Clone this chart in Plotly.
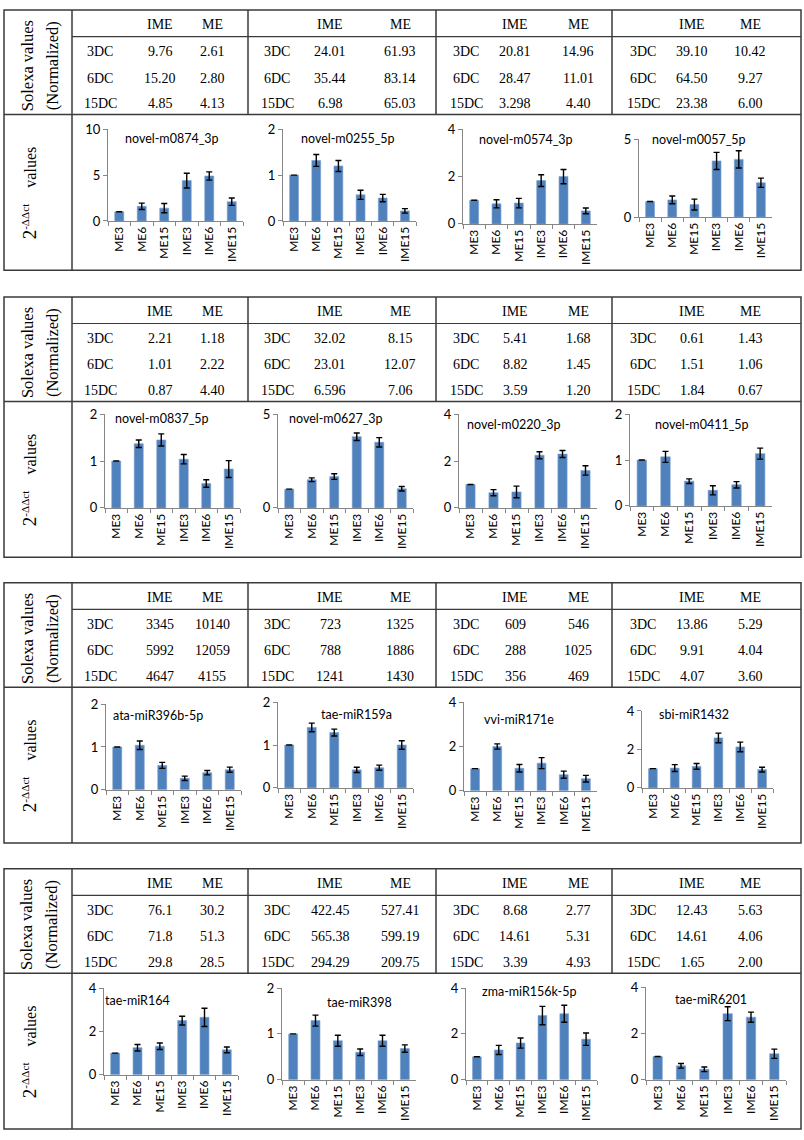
#!/usr/bin/env python3
"""
qRT-PCR validation panels with Solexa tables above each row of bar charts.
"""
import plotly.graph_objects as go

W, H = 804, 1140

cats = ["ME3", "ME6", "ME15", "IME3", "IME6", "IME15"]
row_labels = ["3DC", "6DC", "15DC"]

names = [
    "novel-m0874_3p", "novel-m0255_5p", "novel-m0574_3p", "novel-m0057_5p",
    "novel-m0837_5p", "novel-m0627_3p", "novel-m0220_3p", "novel-m0411_5p",
    "ata-miR396b-5p", "tae-miR159a", "vvi-miR171e", "sbi-miR1432",
    "tae-miR164", "tae-miR398", "zma-miR156k-5p", "tae-miR6201",
]

# solexa normalized values, IME and ME columns (3DC, 6DC, 15DC)
ime = [
    ["9.76", "15.20", "4.85"], ["24.01", "35.44", "6.98"],
    ["20.81", "28.47", "3.298"], ["39.10", "64.50", "23.38"],
    ["2.21", "1.01", "0.87"], ["32.02", "23.01", "6.596"],
    ["5.41", "8.82", "3.59"], ["0.61", "1.51", "1.84"],
    ["3345", "5992", "4647"], ["723", "788", "1241"],
    ["609", "288", "356"], ["13.86", "9.91", "4.07"],
    ["76.1", "71.8", "29.8"], ["422.45", "565.38", "294.29"],
    ["8.68", "14.61", "3.39"], ["12.43", "14.61", "1.65"],
]
me = [
    ["2.61", "2.80", "4.13"], ["61.93", "83.14", "65.03"],
    ["14.96", "11.01", "4.40"], ["10.42", "9.27", "6.00"],
    ["1.18", "2.22", "4.40"], ["8.15", "12.07", "7.06"],
    ["1.68", "1.45", "1.20"], ["1.43", "1.06", "0.67"],
    ["10140", "12059", "4155"], ["1325", "1886", "1430"],
    ["546", "1025", "469"], ["5.29", "4.04", "3.60"],
    ["30.2", "51.3", "28.5"], ["527.41", "599.19", "209.75"],
    ["2.77", "5.31", "4.93"], ["5.63", "4.06", "2.00"],
]

# 2^-ddct values and error bars (ME3 is the calibrator, no error)
values = [
    [1.0, 1.6, 1.4, 4.4, 4.9, 2.1],
    [1.0, 1.32, 1.2, 0.57, 0.5, 0.22],
    [1.0, 0.85, 0.88, 1.83, 2.0, 0.55],
    [1.0, 1.1, 0.8, 3.6, 3.7, 2.2],
    [1.0, 1.37, 1.45, 1.04, 0.52, 0.83],
    [1.0, 1.5, 1.67, 3.8, 3.5, 1.02],
    [1.0, 0.65, 0.68, 2.25, 2.3, 1.6],
    [1.0, 1.07, 0.54, 0.34, 0.46, 1.14],
    [1.0, 1.04, 0.57, 0.27, 0.4, 0.47],
    [1.0, 1.41, 1.29, 0.42, 0.47, 1.0],
    [1.0, 2.0, 1.02, 1.25, 0.73, 0.55],
    [1.0, 1.03, 1.12, 2.6, 2.13, 0.95],
    [1.0, 1.25, 1.32, 2.5, 2.65, 1.15],
    [1.0, 1.29, 0.85, 0.6, 0.85, 0.68],
    [1.0, 1.3, 1.6, 2.8, 2.88, 1.77],
    [1.0, 0.6, 0.45, 2.85, 2.7, 1.12],
]
errors = [
    [None, 0.35, 0.5, 0.8, 0.45, 0.4],
    [None, 0.13, 0.12, 0.1, 0.08, 0.05],
    [None, 0.17, 0.2, 0.25, 0.3, 0.12],
    [None, 0.25, 0.35, 0.55, 0.55, 0.3],
    [None, 0.08, 0.13, 0.1, 0.08, 0.18],
    [None, 0.1, 0.15, 0.2, 0.25, 0.12],
    [None, 0.13, 0.25, 0.15, 0.15, 0.2],
    [None, 0.12, 0.05, 0.1, 0.07, 0.12],
    [None, 0.1, 0.07, 0.05, 0.05, 0.06],
    [None, 0.1, 0.08, 0.06, 0.06, 0.1],
    [None, 0.12, 0.17, 0.25, 0.16, 0.15],
    [None, 0.18, 0.15, 0.25, 0.25, 0.12],
    [None, 0.15, 0.15, 0.2, 0.42, 0.13],
    [None, 0.12, 0.12, 0.07, 0.12, 0.08],
    [None, 0.2, 0.22, 0.4, 0.37, 0.27],
    [None, 0.1, 0.1, 0.3, 0.22, 0.2],
]
ymax = [10, 2, 4, 5, 2, 5, 4, 2, 2, 2, 4, 4, 4, 2, 4, 4]
dtick = [5, 1, 2, 5, 1, 5, 2, 1, 1, 1, 2, 2, 2, 1, 2, 2]

# ---- layout geometry (pixels) ----
block_top = [2, 293, 583, 873]
block_h = 264
table_h = 106
header_h = 27
left_col = 72
col_edges = [72, 248, 436, 612, 801]
col_text_x = [(100, 160, 212), (277, 330, 400), (466, 515, 578), (643, 692, 750)]
row_y = [42, 69, 95]

# per panel: x0, x1, y top, y zero (relative to block top), title x, title y
panel_geo = [
    (108, 243, 121, 214, 172, 130), (283, 416, 121, 214, 348, 130),
    (463, 597, 121, 217, 526, 131), (639, 772, 131, 210, 699, 131),
    (105, 240, 119, 214, 162, 123), (278, 413, 119, 214, 336, 123),
    (459, 597, 119, 214, 514, 129), (630, 772, 119, 212, 702, 129),
    (106, 241, 123, 210, 158, 135), (278, 413, 121, 208, 356, 134),
    (464, 597, 121, 211, 519, 139), (642, 773, 130, 208, 694, 134),
    (104, 238, 121, 209, 137, 134), (282, 416, 121, 214, 359, 136),
    (466, 597, 121, 214, 529, 125), (646, 786, 120, 214, 711, 133),
]

serif = "Liberation Serif"
sans = "Lato"
bar_color = "#4F81BD"
axis_color = "#868686"
frame = "#3a3a3a"


def px(x):
    return x / W


def py(y):
    return 1 - y / H


fig = go.Figure()
shapes = []
annotations = []
layout_axes = {}


def hline(x0, x1, y, w=1.5):
    shapes.append(dict(type="line", xref="paper", yref="paper",
                       x0=px(x0), x1=px(x1), y0=py(y), y1=py(y),
                       line=dict(color=frame, width=w)))


def vline(x, y0, y1, w=1.5):
    shapes.append(dict(type="line", xref="paper", yref="paper",
                       x0=px(x), x1=px(x), y0=py(y0), y1=py(y1),
                       line=dict(color=frame, width=w)))


def text(s, x, y, size, family, angle=0, xanchor="center"):
    annotations.append(dict(text=s, x=px(x), y=py(y), xref="paper",
                            yref="paper", showarrow=False, xanchor=xanchor,
                            yanchor="middle", textangle=angle,
                            font=dict(size=size, family=family,
                                      color="black")))


for b, T in enumerate(block_top):
    # frame
    shapes.append(dict(type="rect", xref="paper", yref="paper",
                       x0=px(4), x1=px(801), y0=py(T + block_h), y1=py(T),
                       line=dict(color=frame, width=1.5)))
    vline(left_col, T, T + block_h)
    hline(4, 801, T + table_h)
    hline(left_col, 801, T + header_h, w=1.2)
    for xe in col_edges[1:-1]:
        vline(xe, T, T + table_h)

    text("Solexa values", 27, T + 57, 16.5, serif, angle=-90)
    text("(Normalized)", 52, T + 57, 16.5, serif, angle=-90)
    text("<span style='font-size:19px'>2</span><sup>-ΔΔct</sup>"
         "\u00a0\u00a0\u00a0\u00a0values", 29, T + 186, 16, serif, angle=-90)

    for c in range(4):
        k = b * 4 + c
        lx, ix, mx = col_text_x[c]
        text("IME", ix, T + 15, 14, serif)
        text("ME", mx, T + 15, 14, serif)
        for r in range(3):
            text(row_labels[r], lx, T + row_y[r], 14, serif)
            text(ime[k][r], ix, T + row_y[r], 14, serif)
            text(me[k][r], mx, T + row_y[r], 14, serif)

        x0, x1, ytop, yzero, tx, ty = panel_geo[k]
        n = "" if k == 0 else str(k + 1)
        fig.add_trace(go.Bar(
            x=cats, y=values[k], marker_color=bar_color,
            marker_line_color="#7BA0CD", marker_line_width=0.6,
            error_y=dict(type="data", array=errors[k], visible=True,
                         color="black", thickness=1.4, width=3),
            xaxis="x" + n, yaxis="y" + n, showlegend=False))
        layout_axes["xaxis" + n] = dict(
            domain=[px(x0), px(x1)], anchor="y" + n, type="category",
            showline=True, linecolor=axis_color, linewidth=1,
            ticks="outside", tickson="boundaries", ticklen=4,
            tickcolor=axis_color, tickangle=-90, showgrid=False,
            tickfont=dict(size=12, family=sans, color="black"))
        layout_axes["yaxis" + n] = dict(
            domain=[py(T + yzero), py(T + ytop)], anchor="x" + n,
            range=[0, ymax[k]], dtick=dtick[k], showline=True,
            linecolor=axis_color, linewidth=1, ticks="outside", ticklen=4,
            tickcolor=axis_color, showgrid=False, zeroline=False,
            tickfont=dict(size=13, family=sans, color="black"))
        text(names[k], tx, T + ty, 12.5, sans)

fig.update_layout(
    width=W, height=H, margin=dict(l=0, r=0, t=0, b=0),
    paper_bgcolor="white", plot_bgcolor="white",
    bargap=0.6, shapes=shapes, annotations=annotations,
    **layout_axes
)

fig.write_html("out.html", config={"displayModeBar": False},
               post_script="document.body.style.margin='0';")
